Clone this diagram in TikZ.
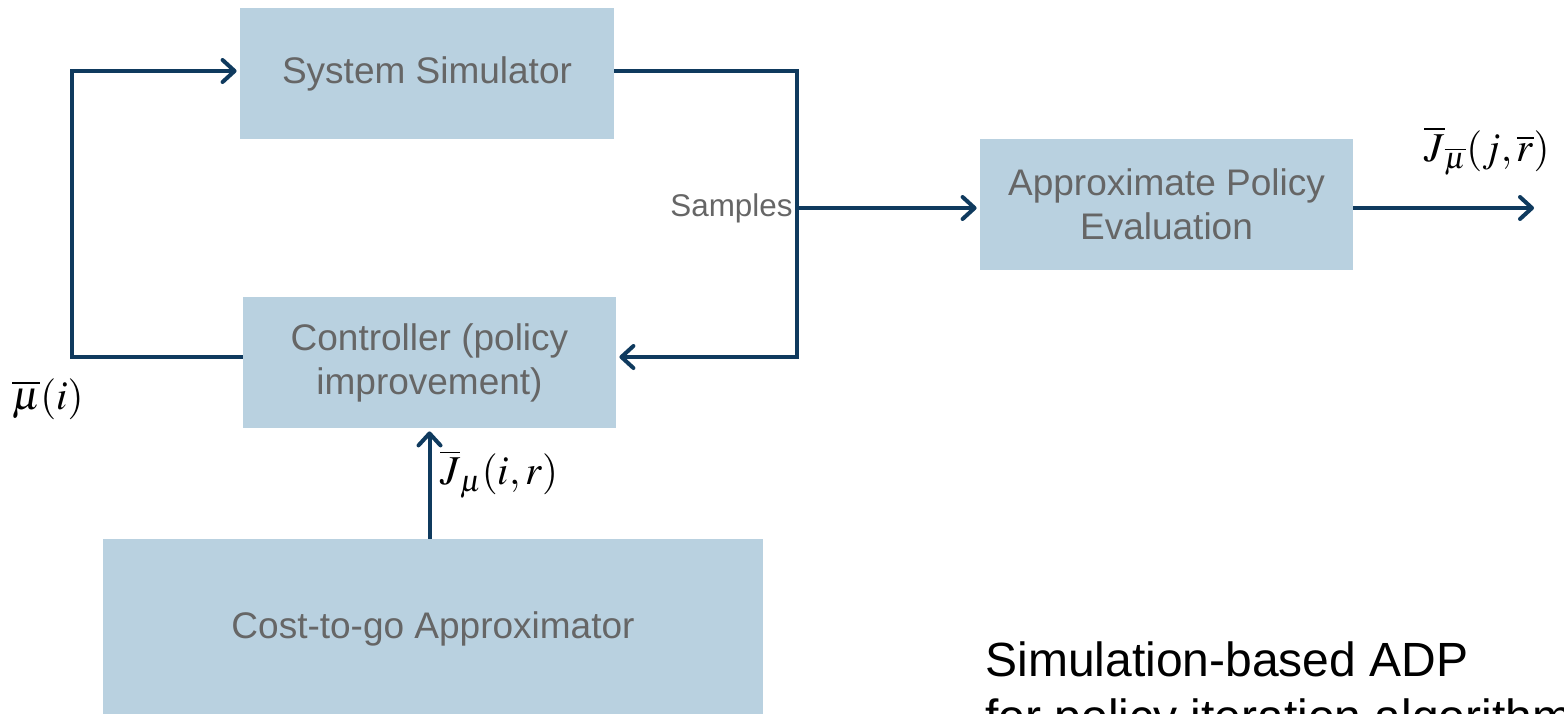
\documentclass[tikz,border=0pt]{standalone}
\usepackage{mathptmx}
\usepackage{fontspec}
\setmainfont{Liberation Sans}
\usetikzlibrary{arrows.meta,calc}
\definecolor{boxfill}{HTML}{B9D1E0}
\definecolor{linec}{HTML}{0F3A5E}
\definecolor{txtgray}{HTML}{666666}
\tikzset{
  box/.style={rectangle, fill=boxfill, draw=none, text=txtgray, align=center,
    font=\fontsize{18.5}{22}\selectfont, inner sep=0pt},
  conn/.style={draw=linec, line width=2pt, line join=miter},
  arr/.style={conn, -{Straight Barb[length=6pt,width=11pt,line width=2pt,round]}, shorten >=1.5pt},
  mlabel/.style={font=\fontsize{20.5}{24}\selectfont, inner sep=0pt},
}
\begin{document}
\begin{tikzpicture}[x=0.5pt,y=-0.5pt]
\useasboundingbox (0,0) rectangle (1564,713);
\clip (0,0) rectangle (1564,713);
\node[box, minimum width=187pt, minimum height=65.5pt] (sim) at (427,73.5) {\raisebox{-1.5pt}{System Simulator}};
\node[box, minimum width=186.5pt, minimum height=65.5pt] (ctrl) at (429.5,362.5) {Controller (policy\\improvement)};
\node[box, minimum width=186.5pt, minimum height=65.5pt] (app) at (1166.5,204.5) {Approximate Policy\\Evaluation};
\node[box, minimum width=330pt, minimum height=90pt] (cost) at (433,629) {Cost-to-go Approximator};

\coordinate (rc) at (797,357);
\coordinate (lc) at (72,357);
\coordinate (sp) at (797,208);
\coordinate (out) at (1537,208);
\coordinate (top) at (0,71);

\draw[arr] (sim.east |- top) -| (rc) -- (rc -| ctrl.east);
\draw[arr] (lc -| ctrl.west) -- (lc) |- (sim.west |- top);
\draw[arr] (sp) -- (sp -| app.west);
\draw[arr] (sp -| app.east) -- (out);
\draw[arr] (ctrl.south |- cost.north) -- (ctrl.south);

\node[anchor=east, text=txtgray, font=\fontsize{15.7}{18}\selectfont, inner sep=2pt] (samp) at (sp) {Samples};

\node[mlabel] (mu) at (48,399) {$\overline{\mu}(i)$};
\node[mlabel] (jmu) at (499,474) {$\overline{J}_{\mu}(i,r)$};
\node[mlabel] (jout) at (1487,151) {$\overline{J}_{\overline{\mu}}(j,\overline{r})$};

\node[anchor=base west, font=\fontsize{24}{28}\selectfont, inner sep=0pt] (t1) at (985,676) {Simulation-based ADP};
\node[anchor=base west, font=\fontsize{24}{28}\selectfont, inner sep=0pt] (t2) at (985,733) {for policy iteration algorithm};
\end{tikzpicture}
\end{document}
